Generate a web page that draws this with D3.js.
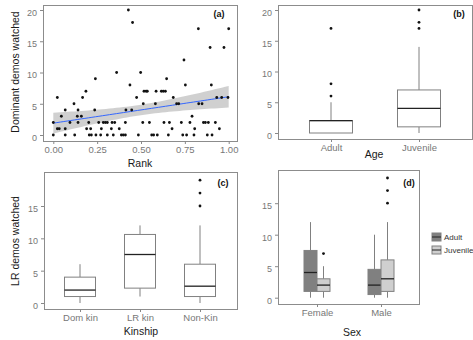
<!DOCTYPE html>
<html>
<head>
<meta charset="utf-8">
<script src="https://cdn.jsdelivr.net/npm/d3@7"></script>
<style>
body { margin:0; background:#fff; }
svg { font-family: "Liberation Sans", Arial, sans-serif; }
.tick text { fill:#777; font-size:9px; }
.tick line { stroke:#888; }
.ttl { font-size:10.5px; fill:#1a1a1a; }
.tag { font-size:9px; font-weight:bold; fill:#111; }
</style>
</head>
<body>
<div id="chart"></div>
<script>
var w = 473;
var h = 340;

// (a) rank vs dominant demos watched
var rank = [0.00,0.00,0.023,0.034,0.023,0.046,0.068,0.068,0.068,0.095,0.118,0.122,0.141,0.141,0.137,0.160,0.167,0.186,0.190,0.202,0.205,0.217,0.213,0.236,0.240,0.243,0.259,0.270,0.274,0.285,0.297,0.308,0.308,0.331,0.335,0.350,0.342,0.361,0.376,0.388,0.399,0.411,0.411,0.414,0.428,0.437,0.447,0.452,0.475,0.485,0.498,0.510,0.513,0.517,0.529,0.536,0.548,0.561,0.572,0.582,0.586,0.593,0.616,0.627,0.631,0.639,0.646,0.656,0.662,0.677,0.684,0.703,0.715,0.730,0.738,0.745,0.753,0.760,0.779,0.791,0.802,0.806,0.827,0.829,0.848,0.856,0.867,0.878,0.884,0.894,0.901,0.905,0.924,0.932,0.947,0.960,0.973,0.996,1.00];
var demos = [0,2,1,1,6,3,4,0,1,2,5,0,4,2,3,3,6,7,1,2,0,0,1,4,9,0,2,0,1,2,2,2,0,1,2,2,0,10,1,0,0,0,2,4,20,8,4,18,6,0,10,2,5,7,7,7,2,0,0,5,7,0,7,7,2,7,9,0,2,1,6,5,5,2,0,12,8,0,2,3,0,1,17,5,5,2,2,0,2,14,8,0,2,6,1,6,14,6,17];

// (b) age
var ages = ["Adult", "Juvenile"];
var ageBox = [[0,0,2,2,5],[0,1,4,7,14]];
var ageOut = [[6,8,17],[17,18,20]];

// (c) kinship
var kin = ["Dom kin", "LR kin", "Non-Kin"];
var kinBox = [[0,1,2,4,6],[1,2.3,7.5,10.6,12],[0,1,2.6,6,12]];
var kinOut = [[],[],[15,17,19]];

// (d) sex x age
var sexes = ["Female", "Male"];
var sexAdultBox = [[0,1,4,7.5,12],[0,0.5,2,4.5,10]];
var sexJuvBox = [[0,1,2,3,5],[0,1,3,6,12]];
var sexAdultOut = [[],[]];
var sexJuvOut = [[7],[15,17,19]];

var svg = d3.select("#chart").append("svg")
  .attr("width", w).attr("height", h);

function frame(x0, y0, x1, y1){
  svg.append("rect").attr("x", x0 + 0.5).attr("y", y0 + 0.5)
    .attr("width", x1 - x0).attr("height", y1 - y0)
    .attr("fill", "none").attr("stroke", "#8c8c8c").attr("stroke-width", 1);
}

function yAxis(sc, x0, ticks){
  var g = svg.append("g").attr("transform", "translate(" + x0 + ",0)")
    .call(d3.axisLeft(sc).tickValues(ticks).tickSize(3).tickPadding(3));
  g.select(".domain").remove();
  g.selectAll(".tick text").attr("dy", "0.6em");
}

function xAxis(sc, y0, ticks, fmt){
  var ax = d3.axisBottom(sc).tickSize(3).tickPadding(2);
  if (ticks) ax.tickValues(ticks);
  if (fmt) ax.tickFormat(fmt);
  var g = svg.append("g").attr("transform", "translate(0," + y0 + ")").call(ax);
  g.select(".domain").remove();
  g.selectAll(".tick text").style("font-size", "9.5px");
}

function boxes(xs, ys, cats, stats, outs, bw, off, fill){
  cats.forEach(function(c, i){
    var s = stats[i];
    var cx = xs(c) + off;
    var g = svg.append("g");
    g.append("line").attr("x1", cx).attr("x2", cx)
      .attr("y1", ys(s[0])).attr("y2", ys(s[1])).attr("stroke", "#808080");
    g.append("line").attr("x1", cx).attr("x2", cx)
      .attr("y1", ys(s[3])).attr("y2", ys(s[4])).attr("stroke", "#808080");
    g.append("rect").attr("x", cx - bw / 2).attr("y", ys(s[3]))
      .attr("width", bw).attr("height", Math.max(ys(s[1]) - ys(s[3]), 0))
      .attr("fill", fill).attr("stroke", "#808080");
    g.append("line").attr("x1", cx - bw / 2).attr("x2", cx + bw / 2)
      .attr("y1", ys(s[2])).attr("y2", ys(s[2]))
      .attr("stroke", "#222").attr("stroke-width", 1.3);
    g.selectAll("circle").data(outs[i]).enter().append("circle")
      .attr("cx", cx).attr("cy", function(d){ return ys(d); })
      .attr("r", 1.4).attr("fill", "#111");
  });
}

// ---- panel (a)
var xa = d3.scaleLinear().domain([0, 1]).range([53.3, 228.7]);
var ya = d3.scaleLinear().domain([0, 20]).range([135, 10]);

// linear fit with 95% band
var n = rank.length;
var mx = d3.mean(rank), my = d3.mean(demos);
var sxx = d3.sum(rank, function(r){ return (r - mx) * (r - mx); });
var sxy = d3.sum(rank, function(r, i){ return (r - mx) * (demos[i] - my); });
var slope = sxy / sxx, icpt = my - slope * mx;
var rss = d3.sum(rank, function(r, i){ var e = demos[i] - icpt - slope * r; return e * e; });
var sig = Math.sqrt(rss / (n - 2));
var grid = d3.range(0, 1.0001, 0.02);
var band = grid.map(function(r){
  var f = icpt + slope * r;
  var se = sig * Math.sqrt(1 / n + (r - mx) * (r - mx) / sxx);
  return { r: r, f: f, lo: f - 1.985 * se, hi: f + 1.985 * se };
});

svg.append("path").datum(band)
  .attr("d", d3.area().x(function(d){ return xa(d.r); })
    .y0(function(d){ return ya(d.lo); }).y1(function(d){ return ya(d.hi); }))
  .attr("fill", "#c8c8c8").attr("opacity", 0.85);
svg.append("path").datum(band)
  .attr("d", d3.line().x(function(d){ return xa(d.r); }).y(function(d){ return ya(d.f); }))
  .attr("fill", "none").attr("stroke", "#3366ff").attr("stroke-width", 1);

svg.selectAll(".pt").data(rank).enter().append("circle")
  .attr("class", "pt")
  .attr("cx", function(d){ return xa(d); })
  .attr("cy", function(d, i){ return ya(demos[i]); })
  .attr("r", 1.4).attr("fill", "#111");

frame(43, 5, 237, 141);
yAxis(ya, 43, [0, 5, 10, 15, 20]);
xAxis(xa, 141, [0, 0.25, 0.5, 0.75, 1], d3.format(".2f"));
svg.append("text").attr("class", "tag").attr("x", 219).attr("y", 17).attr("text-anchor", "middle").text("(a)");
svg.append("text").attr("class", "ttl").attr("x", 140).attr("y", 167).attr("text-anchor", "middle").text("Rank");
svg.append("text").attr("class", "ttl").attr("transform", "translate(19,72) rotate(-90)")
  .attr("text-anchor", "middle").text("Dominant demos watched");

// ---- panel (b)
var xb = d3.scalePoint().domain(ages).range([331, 419]);
var yb = d3.scaleLinear().domain([0, 20]).range([133, 10]);
boxes(xb, yb, ages, ageBox, ageOut, 43, 0, "#fff");
frame(278, 5, 472, 139);
yAxis(yb, 278, [0, 5, 10, 15, 20]);
xAxis(xb, 139);
svg.append("text").attr("class", "tag").attr("x", 459).attr("y", 17).attr("text-anchor", "middle").text("(b)");
svg.append("text").attr("class", "ttl").attr("x", 374).attr("y", 158).attr("text-anchor", "middle").text("Age");

// ---- panel (c)
var xc = d3.scalePoint().domain(kin).range([80, 200]);
var yc = d3.scaleLinear().domain([0, 15]).range([303, 206]);
boxes(xc, yc, kin, kinBox, kinOut, 31, 0, "#fff");
frame(44, 172, 237, 309);
yAxis(yc, 44, [0, 5, 10, 15]);
xAxis(xc, 309);
svg.append("text").attr("class", "tag").attr("x", 223).attr("y", 186).attr("text-anchor", "middle").text("(c)");
svg.append("text").attr("class", "ttl").attr("x", 141).attr("y", 335).attr("text-anchor", "middle").text("Kinship");
svg.append("text").attr("class", "ttl").attr("transform", "translate(19,241) rotate(-90)")
  .attr("text-anchor", "middle").text("LR demos watched");

// ---- panel (d)
var xd = d3.scalePoint().domain(sexes).range([317, 381]);
var yd = d3.scaleLinear().domain([0, 15]).range([297.7, 203.2]);
boxes(xd, yd, sexes, sexAdultBox, sexAdultOut, 13, -6.5, "#808080");
boxes(xd, yd, sexes, sexJuvBox, sexJuvOut, 13, 6.5, "#cfcfcf");
frame(278, 170, 419, 304);
yAxis(yd, 278, [0, 5, 10, 15]);
xAxis(xd, 304);
svg.append("text").attr("class", "tag").attr("x", 409).attr("y", 186).attr("text-anchor", "middle").text("(d)");
svg.append("text").attr("class", "ttl").attr("x", 352).attr("y", 336).attr("text-anchor", "middle").text("Sex");

// legend
var legend = [{ k: "Adult", c: "#808080" }, { k: "Juvenile", c: "#cfcfcf" }];
var lg = svg.selectAll(".lg").data(legend).enter().append("g")
  .attr("transform", function(d, i){ return "translate(432," + (233 + i * 13) + ")"; });
lg.append("rect").attr("width", 9).attr("height", 8)
  .attr("fill", function(d){ return d.c; }).attr("stroke", "#808080");
lg.append("line").attr("x1", 0).attr("x2", 9).attr("y1", 4).attr("y2", 4).attr("stroke", "#222");
lg.append("text").attr("x", 12).attr("y", 7).style("font-size", "8px").attr("fill", "#333")
  .text(function(d){ return d.k; });
</script>
</body>
</html>
